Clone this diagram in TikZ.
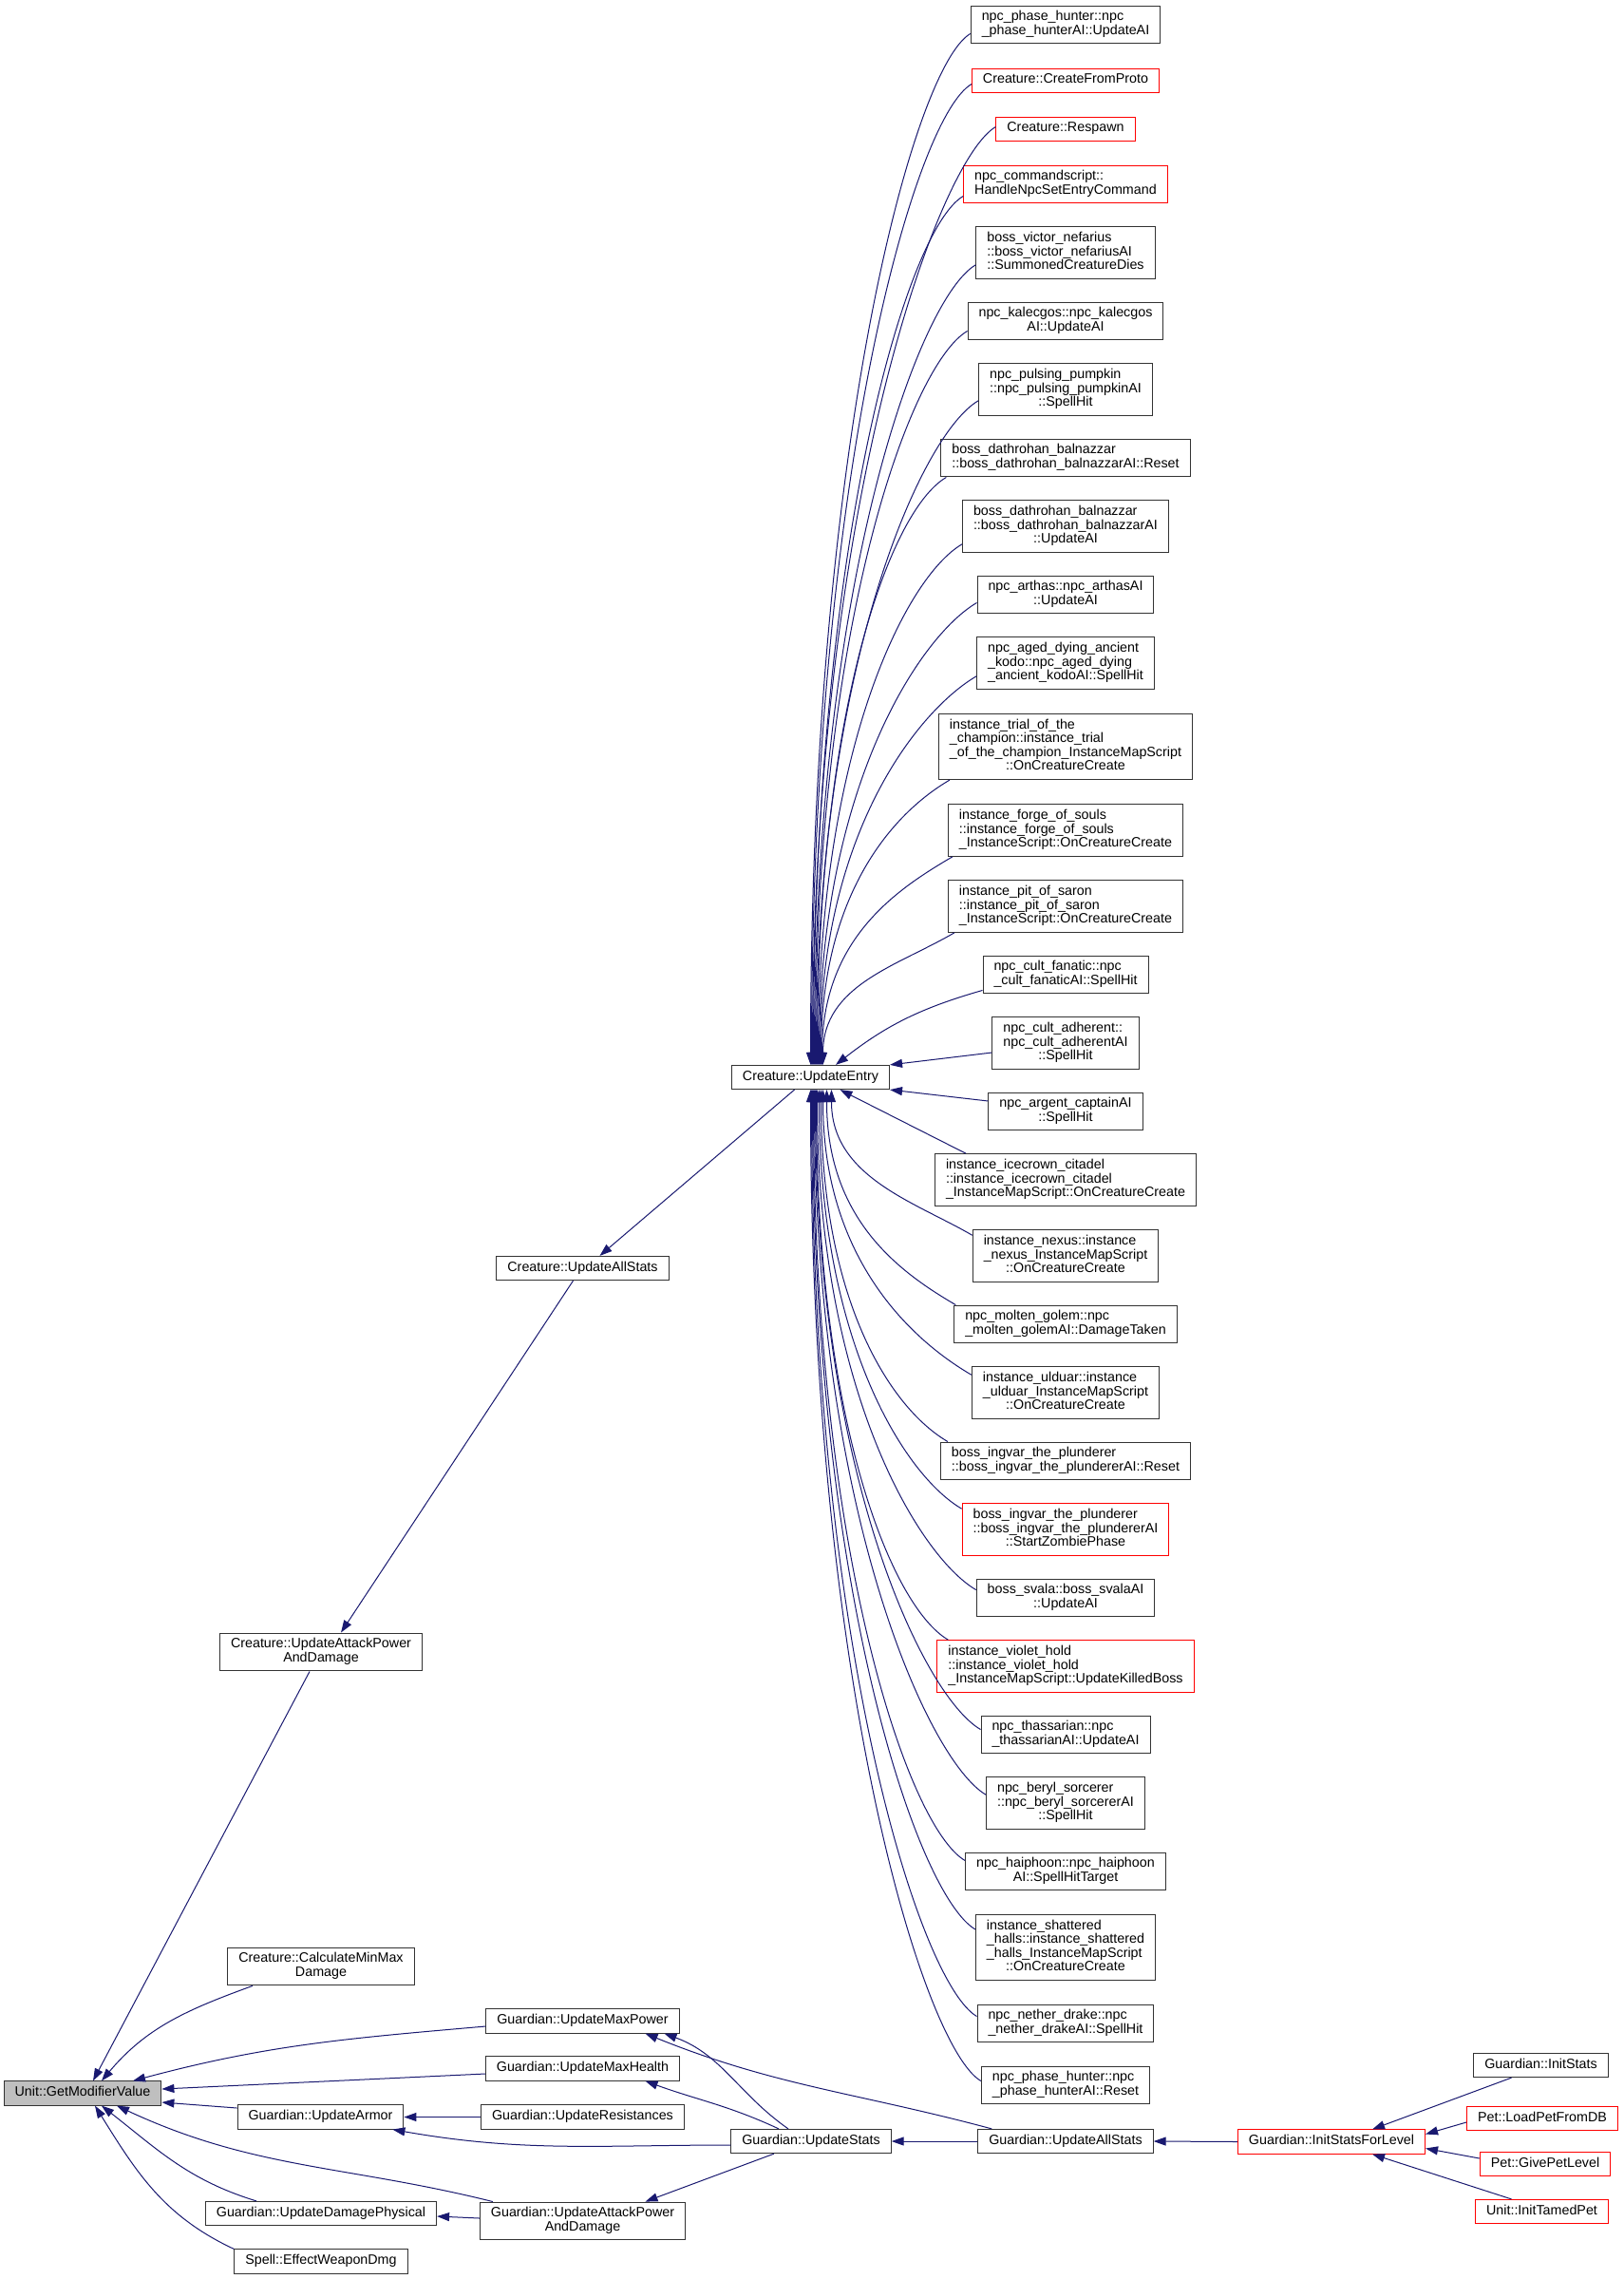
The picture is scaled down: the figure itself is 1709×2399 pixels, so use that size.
\documentclass[tikz,border=0pt]{standalone}
\usepackage{fontspec}
\setmainfont{Liberation Sans}
\usetikzlibrary{arrows.meta}
\definecolor{edgeblue}{HTML}{191970}
\definecolor{boxgray}{HTML}{BFBFBF}
% one line / several lines (last one centred)
\newcommand{\lblone}[1]{\begin{tabular}{@{}c@{}}#1\end{tabular}}
\newcommand{\lblmulti}[2]{\begin{tabular}{@{}l@{}}#1\\\multicolumn{1}{@{}c@{}}{#2}\end{tabular}}
\begin{document}
\begin{tikzpicture}[x=1pt,y=1pt,
box/.style={draw=black!80,line width=1pt,fill=white,inner xsep=11.5pt,inner ysep=5.25pt,font=\fontsize{14.3}{14.5}\selectfont},
redbox/.style={box,draw=red},
callarrow/.style={{Triangle[length=13pt,width=9pt]}-,draw=edgeblue,line width=1pt}]
\fill[white] (0,0) rectangle (1709,-2399);
\useasboundingbox (0,0) rectangle (1709,-2399);
% left part
\node[box,fill=boxgray](gmv) at (87,-2203.5){\lblone{Unit::GetModifierValue}};
\node[box](cuapd) at (338,-1739){\lblmulti{Creature::UpdateAttackPower}{AndDamage}};
\node[box](ccmm) at (338,-2070){\lblmulti{Creature::CalculateMinMax}{Damage}};
\node[box](gua) at (337.5,-2228.5){\lblone{Guardian::UpdateArmor}};
\node[box](gudp) at (338,-2330){\lblone{Guardian::UpdateDamagePhysical}};
\node[box](sewd) at (338,-2380.5){\lblone{Spell::EffectWeaponDmg}};
\node[box](cuas) at (613.5,-1335){\lblone{Creature::UpdateAllStats}};
\node[box](gump) at (613.5,-2127.5){\lblone{Guardian::UpdateMaxPower}};
\node[box](gumh) at (613.5,-2177.5){\lblone{Guardian::UpdateMaxHealth}};
\node[box](gur) at (613.5,-2228.5){\lblone{Guardian::UpdateResistances}};
\node[box](guapd) at (613.5,-2338){\lblmulti{Guardian::UpdateAttackPower}{AndDamage}};
\node[box](cue) at (853.5,-1134){\lblone{Creature::UpdateEntry}};
\node[box](gus) at (854,-2254){\lblone{Guardian::UpdateStats}};
\node[box](guas) at (1122,-2254){\lblone{Guardian::UpdateAllStats}};
\node[redbox](gisl) at (1402,-2254.5){\lblone{Guardian::InitStatsForLevel}};
\node[box](gis) at (1622.5,-2174){\lblone{Guardian::InitStats}};
\node[redbox](plpd) at (1624,-2230){\lblone{Pet::LoadPetFromDB}};
\node[redbox](pgpl) at (1627,-2278){\lblone{Pet::GivePetLevel}};
\node[redbox](uitp) at (1623.5,-2328){\lblone{Unit::InitTamedPet}};
% callers of Creature::UpdateEntry
\node[box](r1) at (1122,-26){\lblmulti{npc\_phase\_hunter::npc}{\_phase\_hunterAI::UpdateAI}};
\node[redbox](r2) at (1122,-84.5){\lblone{Creature::CreateFromProto}};
\node[redbox](r3) at (1122,-135.5){\lblone{Creature::Respawn}};
\node[redbox](r4) at (1122,-194){\lblmulti{npc\_commandscript::}{HandleNpcSetEntryCommand}};
\node[box](r5) at (1122,-266){\lblmulti{boss\_victor\_nefarius\\::boss\_victor\_nefariusAI}{::SummonedCreatureDies}};
\node[box](r6) at (1122,-338){\lblmulti{npc\_kalecgos::npc\_kalecgos}{AI::UpdateAI}};
\node[box](r7) at (1122,-410){\lblmulti{npc\_pulsing\_pumpkin\\::npc\_pulsing\_pumpkinAI}{::SpellHit}};
\node[box](r8) at (1122,-482){\lblmulti{boss\_dathrohan\_balnazzar}{::boss\_dathrohan\_balnazzarAI::Reset}};
\node[box](r9) at (1122,-554){\lblmulti{boss\_dathrohan\_balnazzar\\::boss\_dathrohan\_balnazzarAI}{::UpdateAI}};
\node[box](r10) at (1122,-626){\lblmulti{npc\_arthas::npc\_arthasAI}{::UpdateAI}};
\node[box](r11) at (1122,-698){\lblmulti{npc\_aged\_dying\_ancient\\\_kodo::npc\_aged\_dying}{\_ancient\_kodoAI::SpellHit}};
\node[box](r12) at (1122,-786){\lblmulti{instance\_trial\_of\_the\\\_champion::instance\_trial\\\_of\_the\_champion\_InstanceMapScript}{::OnCreatureCreate}};
\node[box](r13) at (1122,-874){\lblmulti{instance\_forge\_of\_souls\\::instance\_forge\_of\_souls}{\_InstanceScript::OnCreatureCreate}};
\node[box](r14) at (1122,-954){\lblmulti{instance\_pit\_of\_saron\\::instance\_pit\_of\_saron}{\_InstanceScript::OnCreatureCreate}};
\node[box](r15) at (1122,-1026){\lblmulti{npc\_cult\_fanatic::npc}{\_cult\_fanaticAI::SpellHit}};
\node[box](r16) at (1122,-1098){\lblmulti{npc\_cult\_adherent::\\npc\_cult\_adherentAI}{::SpellHit}};
\node[box](r17) at (1122,-1170){\lblmulti{npc\_argent\_captainAI}{::SpellHit}};
\node[box](r18) at (1122,-1242){\lblmulti{instance\_icecrown\_citadel\\::instance\_icecrown\_citadel}{\_InstanceMapScript::OnCreatureCreate}};
\node[box](r19) at (1122,-1322){\lblmulti{instance\_nexus::instance\\\_nexus\_InstanceMapScript}{::OnCreatureCreate}};
\node[box](r20) at (1122,-1394){\lblmulti{npc\_molten\_golem::npc}{\_molten\_golemAI::DamageTaken}};
\node[box](r21) at (1122,-1466){\lblmulti{instance\_ulduar::instance\\\_ulduar\_InstanceMapScript}{::OnCreatureCreate}};
\node[box](r22) at (1122,-1538){\lblmulti{boss\_ingvar\_the\_plunderer}{::boss\_ingvar\_the\_plundererAI::Reset}};
\node[redbox](r23) at (1122,-1610){\lblmulti{boss\_ingvar\_the\_plunderer\\::boss\_ingvar\_the\_plundererAI}{::StartZombiePhase}};
\node[box](r24) at (1122,-1682){\lblmulti{boss\_svala::boss\_svalaAI}{::UpdateAI}};
\node[redbox](r25) at (1122,-1754){\lblmulti{instance\_violet\_hold\\::instance\_violet\_hold}{\_InstanceMapScript::UpdateKilledBoss}};
\node[box](r26) at (1122,-1826){\lblmulti{npc\_thassarian::npc}{\_thassarianAI::UpdateAI}};
\node[box](r27) at (1122,-1898){\lblmulti{npc\_beryl\_sorcerer\\::npc\_beryl\_sorcererAI}{::SpellHit}};
\node[box](r28) at (1122,-1970){\lblmulti{npc\_haiphoon::npc\_haiphoon}{AI::SpellHitTarget}};
\node[box](r29) at (1122,-2050){\lblmulti{instance\_shattered\\\_halls::instance\_shattered\\\_halls\_InstanceMapScript}{::OnCreatureCreate}};
\node[box](r30) at (1122,-2130){\lblmulti{npc\_nether\_drake::npc}{\_nether\_drakeAI::SpellHit}};
\node[box](r31) at (1122,-2195){\lblmulti{npc\_phase\_hunter::npc}{\_phase\_hunterAI::Reset}};
% edges into Unit::GetModifierValue
\draw[callarrow]([xshift=11]gmv.north)--([xshift=-12]cuapd.south);
\draw[callarrow]([xshift=20]gmv.north) to[out=50,in=200] ([xshift=-72]ccmm.south);
\draw[callarrow]([xshift=53]gmv.north) to[out=15,in=185] ([yshift=-5.5]gump.west);
\draw[callarrow]([yshift=4.5]gmv.east)--([yshift=-5.5]gumh.west);
\draw[callarrow]([yshift=-9.5]gmv.east)--([yshift=9.5]gua.west);
\draw[callarrow]([xshift=36]gmv.south) to[out=-25,in=166] ([xshift=14]guapd.north west);
\draw[callarrow]([xshift=20]gmv.south) to[out=-38,in=163] ([xshift=-68]gudp.north);
\draw[callarrow]([xshift=13]gmv.south) to[out=-58,in=155] (sewd.north west);
% Guardian chain
\draw[callarrow](gua.east)--(gur.west);
\draw[callarrow]([xshift=-12]gua.south east) to[out=-10,in=180] ([yshift=-4]gus.west);
\draw[callarrow]([xshift=86]gump.south) to[out=-20,in=145] ([xshift=-24]gus.north);
\draw[callarrow]([xshift=66]gump.south) to[out=-22,in=165] ([xshift=15]guas.north west);
\draw[callarrow]([xshift=66]gumh.south) to[out=-20,in=155] ([xshift=-34]gus.north);
\draw[callarrow]([xshift=66]guapd.north)--([xshift=-39]gus.south);
\draw[callarrow]([yshift=-3]gudp.east)--([yshift=3]guapd.west);
\draw[callarrow](gus.east)--(guas.west);\draw[callarrow](guas.east)--(gisl.west);
\draw[callarrow]([xshift=43]gisl.north)--([xshift=-31]gis.south);
\draw[callarrow]([yshift=8]gisl.east)--([yshift=-4]plpd.west);
\draw[callarrow]([yshift=-7]gisl.east)--([yshift=6]pgpl.west);
\draw[callarrow]([xshift=43]gisl.south)--([xshift=-32]uitp.north);
% Creature chain
\draw[callarrow]([xshift=21]cuapd.north)--([xshift=-10]cuas.south);
\draw[callarrow]([xshift=18]cuas.north)--([xshift=-17]cue.south);
% callers above Creature::UpdateEntry
\foreach \n/\sx/\sy/\dx/\h in {r1/0/11/0/652,r2/0/9/1/620,r3/0/15/2/592,r4/0/8/3/549,r5/0/15/4/506,r6/0/10/5/464,r7/0/16/6/420,r8/6/0/7/371,r9/0/9/8/329,r10/0/12/9/292,r11/0/14/10/246,r12/12/0/11/180,r13/5/0/12/132,r14/7/0/13/84}
  \draw[callarrow]([xshift=\dx]cue.north) .. controls +(0,\h) and +(-60,-35) .. ([shift={(\sx,\sy)}]\n.south west);
\draw[callarrow]([xshift=26.5]cue.north) to[out=38,in=196] ([yshift=4]r15.south west);
\draw[callarrow](cue.north east)--([yshift=-10]r16.west);
\draw[callarrow](cue.south east)--([yshift=11]r17.west);
\draw[callarrow]([xshift=31]cue.south)--([xshift=33]r18.north west);
% callers below Creature::UpdateEntry
\foreach \n/\sx/\sy/\dx/\h in {r19/0/-6/22/92,r20/2/0/17/136,r21/0/-9/13/181,r22/8/0/11/223,r23/0/-6/9/265,r24/0/-12/7/316,r25/12/0/6/348,r26/0/-15/5/404,r27/0/-19/4/445,r28/0/-9/3/487,r29/0/-16/2/530,r30/0/-13/1/586,r31/0/-16/0/626}
  \draw[callarrow]([xshift=\dx]cue.south) .. controls +(0,-\h) and +(-60,35) .. ([shift={(\sx,\sy)}]\n.north west);
\end{tikzpicture}
\end{document}
